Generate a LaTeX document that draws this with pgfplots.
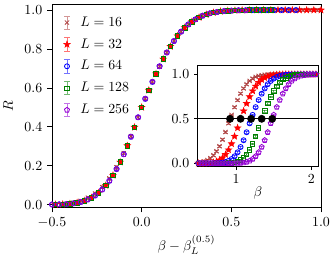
\documentclass[border=0pt]{standalone}
\usepackage{pgfplots}
\pgfplotsset{compat=1.18}
\usepackage{pgfplotstable}

\definecolor{c16}{HTML}{A52A2A}
\definecolor{c32}{HTML}{FF0000}
\definecolor{c64}{HTML}{0000FF}
\definecolor{c128}{HTML}{008000}
\definecolor{c256}{HTML}{9400D3}

\pgfdeclareplotmark{fstar}{%
  \pgfpathmoveto{\pgfpointpolar{90}{\pgfplotmarksize}}%
  \pgfpathlineto{\pgfpointpolar{126}{0.4\pgfplotmarksize}}%
  \pgfpathlineto{\pgfpointpolar{162}{\pgfplotmarksize}}%
  \pgfpathlineto{\pgfpointpolar{198}{0.4\pgfplotmarksize}}%
  \pgfpathlineto{\pgfpointpolar{234}{\pgfplotmarksize}}%
  \pgfpathlineto{\pgfpointpolar{270}{0.4\pgfplotmarksize}}%
  \pgfpathlineto{\pgfpointpolar{306}{\pgfplotmarksize}}%
  \pgfpathlineto{\pgfpointpolar{342}{0.4\pgfplotmarksize}}%
  \pgfpathlineto{\pgfpointpolar{18}{\pgfplotmarksize}}%
  \pgfpathlineto{\pgfpointpolar{54}{0.4\pgfplotmarksize}}%
  \pgfpathclose
  \pgfusepathqfillstroke
}

\pgfplotstableread{
beta x R
0.50 -0.42 0.004
0.54 -0.38 0.010
0.58 -0.34 0.020
0.62 -0.30 0.036
0.66 -0.26 0.058
0.70 -0.22 0.090
0.74 -0.18 0.135
0.78 -0.14 0.192
0.82 -0.10 0.265
0.86 -0.06 0.352
0.90 -0.02 0.449
0.94 0.02 0.544
0.98 0.06 0.631
1.02 0.10 0.711
1.06 0.14 0.782
1.10 0.18 0.841
1.14 0.22 0.889
1.18 0.26 0.926
1.22 0.30 0.952
1.26 0.34 0.971
1.30 0.38 0.983
1.34 0.42 0.990
1.38 0.46 0.995
1.42 0.50 0.997
1.46 0.54 0.999
1.50 0.58 0.999
1.54 0.62 1.000
1.58 0.66 1.000
1.62 0.70 1.000
1.66 0.74 1.000
1.70 0.78 1.000
1.74 0.82 1.000
1.78 0.86 1.000
1.82 0.90 1.000
1.86 0.94 1.000
1.90 0.98 1.000
1.94 1.02 1.000
1.98 1.06 1.000
2.02 1.10 1.000
2.06 1.14 1.000
}\tA

\pgfplotstableread{
beta x R
0.50 -0.56 0.000
0.54 -0.52 0.000
0.58 -0.48 0.001
0.62 -0.44 0.002
0.66 -0.40 0.005
0.70 -0.36 0.010
0.74 -0.32 0.020
0.78 -0.28 0.036
0.82 -0.24 0.061
0.86 -0.20 0.099
0.90 -0.16 0.151
0.94 -0.12 0.219
0.98 -0.08 0.303
1.02 -0.04 0.398
1.06 0.00 0.500
1.10 0.04 0.588
1.14 0.08 0.672
1.18 0.12 0.748
1.22 0.16 0.813
1.26 0.20 0.867
1.30 0.24 0.909
1.34 0.28 0.940
1.38 0.32 0.962
1.42 0.36 0.977
1.46 0.40 0.987
1.50 0.44 0.993
1.54 0.48 0.996
1.58 0.52 0.998
1.62 0.56 0.999
1.66 0.60 1.000
1.70 0.64 1.000
1.74 0.68 1.000
1.78 0.72 1.000
1.82 0.76 1.000
1.86 0.80 1.000
1.90 0.84 1.000
1.94 0.88 1.000
1.98 0.92 1.000
2.02 0.96 1.000
2.06 1.00 1.000
}\tB

\pgfplotstableread{
beta x R
0.50 -0.70 0.000
0.54 -0.66 0.000
0.58 -0.62 0.000
0.62 -0.58 0.000
0.66 -0.54 0.000
0.70 -0.50 0.001
0.74 -0.46 0.002
0.78 -0.42 0.003
0.82 -0.38 0.007
0.86 -0.34 0.014
0.90 -0.30 0.027
0.94 -0.26 0.047
0.98 -0.22 0.078
1.02 -0.18 0.123
1.06 -0.14 0.183
1.10 -0.10 0.259
1.14 -0.06 0.349
1.18 -0.02 0.449
1.22 0.02 0.544
1.26 0.06 0.631
1.30 0.10 0.711
1.34 0.14 0.782
1.38 0.18 0.841
1.42 0.22 0.889
1.46 0.26 0.926
1.50 0.30 0.952
1.54 0.34 0.971
1.58 0.38 0.983
1.62 0.42 0.990
1.66 0.46 0.995
1.70 0.50 0.997
1.74 0.54 0.999
1.78 0.58 0.999
1.82 0.62 1.000
1.86 0.66 1.000
1.90 0.70 1.000
1.94 0.74 1.000
1.98 0.78 1.000
2.02 0.82 1.000
2.06 0.86 1.000
}\tC

\pgfplotstableread{
beta x R
0.50 -0.84 0.000
0.54 -0.80 0.000
0.58 -0.76 0.000
0.62 -0.72 0.000
0.66 -0.68 0.000
0.70 -0.64 0.000
0.74 -0.60 0.000
0.78 -0.56 0.000
0.82 -0.52 0.000
0.86 -0.48 0.001
0.90 -0.44 0.002
0.94 -0.40 0.005
0.98 -0.36 0.010
1.02 -0.32 0.020
1.06 -0.28 0.036
1.10 -0.24 0.061
1.14 -0.20 0.099
1.18 -0.16 0.151
1.22 -0.12 0.219
1.26 -0.08 0.303
1.30 -0.04 0.398
1.34 0.00 0.500
1.38 0.04 0.588
1.42 0.08 0.672
1.46 0.12 0.748
1.50 0.16 0.813
1.54 0.20 0.867
1.58 0.24 0.909
1.62 0.28 0.940
1.66 0.32 0.962
1.70 0.36 0.977
1.74 0.40 0.987
1.78 0.44 0.993
1.82 0.48 0.996
1.86 0.52 0.998
1.90 0.56 0.999
1.94 0.60 1.000
1.98 0.64 1.000
2.02 0.68 1.000
2.06 0.72 1.000
}\tD

\pgfplotstableread{
beta x R
0.50 -0.98 0.000
0.54 -0.94 0.000
0.58 -0.90 0.000
0.62 -0.86 0.000
0.66 -0.82 0.000
0.70 -0.78 0.000
0.74 -0.74 0.000
0.78 -0.70 0.000
0.82 -0.66 0.000
0.86 -0.62 0.000
0.90 -0.58 0.000
0.94 -0.54 0.000
0.98 -0.50 0.001
1.02 -0.46 0.002
1.06 -0.42 0.003
1.10 -0.38 0.007
1.14 -0.34 0.014
1.18 -0.30 0.027
1.22 -0.26 0.047
1.26 -0.22 0.078
1.30 -0.18 0.123
1.34 -0.14 0.183
1.38 -0.10 0.259
1.42 -0.06 0.349
1.46 -0.02 0.449
1.50 0.02 0.544
1.54 0.06 0.631
1.58 0.10 0.711
1.62 0.14 0.782
1.66 0.18 0.841
1.70 0.22 0.889
1.74 0.26 0.926
1.78 0.30 0.952
1.82 0.34 0.971
1.86 0.38 0.983
1.90 0.42 0.990
1.94 0.46 0.995
1.98 0.50 0.997
2.02 0.54 0.999
2.06 0.58 0.999
}\tE

\pgfplotsset{
  s16/.style={only marks, color=c16!90!white, mark=x, mark size=2.1pt, line width=0.6pt},
  s32/.style={only marks, color=c32, mark=fstar, mark size=2.4pt, line width=0.4pt},
  s64/.style={only marks, color=c64, mark=o, mark size=1.8pt, line width=0.6pt},
  s128/.style={only marks, color=c128, mark=square, mark size=1.6pt, line width=0.6pt},
  s256/.style={only marks, color=c256, mark=pentagon, mark size=1.9pt, line width=0.6pt},
  eb/.style={error bars/.cd, y dir=both, y fixed=#1,
     error bar style={line width=0.5pt, opacity=0.6},
     error mark options={rotate=90, mark size=1.6pt, line width=0.5pt, opacity=0.6}},
  frame/.style={
    axis line style={line width=0.6pt, black},
    tick align=outside, tick pos=left,
    every tick/.style={black, line width=0.6pt},
    scale only axis,
  },
}

\begin{document}
\begin{tikzpicture}
\useasboundingbox (0,0) rectangle (241.92pt,187.2pt);
\begin{axis}[frame,
  at={(37.44pt,37.7pt)}, anchor=south west,
  width=193.7pt, height=146.6pt,
  xmin=-0.5, xmax=1.0, ymin=-0.015, ymax=1.031,
  xtick={-0.5,0,0.5,1.0}, ytick={0,0.2,0.4,0.6,0.8,1.0},
  major tick length=3.5pt,
  xticklabel style={/pgf/number format/.cd, fixed, fixed zerofill, precision=1},
  yticklabel style={/pgf/number format/.cd, fixed, fixed zerofill, precision=1},
  xlabel={$\beta-\beta_L^{(0.5)}$},
  ylabel={$R$},
  every axis x label/.style={at={(axis description cs:0.5,-0.183)}, anchor=center},
  every axis y label/.style={at={(axis description cs:-0.163,0.5)}, anchor=center, rotate=90},
  restrict x to domain=-0.5:1.0,
  legend style={at={(axis description cs:0,1)}, xshift=1.5pt, yshift=-5pt, anchor=north west,
    draw=none, fill=none, row sep=3.4pt, font=\fontsize{10}{12}\selectfont,
    nodes={font=\fontsize{10}{12}\selectfont}},
  legend cell align=left,
  legend image code/.code={
    \path[draw=none, fill=none] (0pt,-5pt) rectangle (13.7pt,5pt);
    \draw[#1, mark=none, solid, line width=0.6pt, opacity=0.55]
      (6.1pt,-4.8pt) -- (6.1pt,4.8pt)
      (4.1pt,-4.8pt) -- (8.1pt,-4.8pt)
      (4.1pt,4.8pt) -- (8.1pt,4.8pt);
    \draw[#1] plot coordinates {(6.1pt,0pt)};
  },
]
\addplot[s16, eb=0.008] table[x=x, y=R] {\tA};
\addplot[s32, eb=0.008] table[x=x, y=R] {\tB};
\addplot[s64, eb=0.008] table[x=x, y=R] {\tC};
\addplot[s128, eb=0.008] table[x=x, y=R] {\tD};
\addplot[s256, eb=0.008] table[x=x, y=R] {\tE};
\legend{$L=16$, $L=32$, $L=64$, $L=128$, $L=256$}
\end{axis}

\begin{axis}[frame,
  at={(142.3pt,67.2pt)}, anchor=south west,
  width=86.8pt, height=73.2pt,
  axis background/.style={fill=white},
  xmin=0.49, xmax=2.09, ymin=-0.038, ymax=1.105,
  xtick={1,2}, ytick={0,0.5,1},
  major tick length=2.5pt,
  yticklabel style={/pgf/number format/.cd, fixed, fixed zerofill, precision=1},
  xlabel={$\beta$},
  every axis x label/.style={at={(axis description cs:0.5,-0.262)}, anchor=center},
]
\addplot[s16, eb=0.01] table[x=beta, y=R] {\tA};
\addplot[s32, eb=0.01] table[x=beta, y=R] {\tB};
\addplot[s64, eb=0.01] table[x=beta, y=R] {\tC};
\addplot[s128, eb=0.01] table[x=beta, y=R] {\tD};
\addplot[s256, eb=0.01] table[x=beta, y=R] {\tE};
\addplot[black, line width=0.7pt] coordinates {(0.49,0.5) (2.09,0.5)};
\addplot[only marks, black, mark=*, mark size=2.6pt] coordinates {(0.92,0.5) (1.06,0.5) (1.20,0.5) (1.34,0.5) (1.48,0.5)};
\end{axis}
\end{tikzpicture}
\end{document}
